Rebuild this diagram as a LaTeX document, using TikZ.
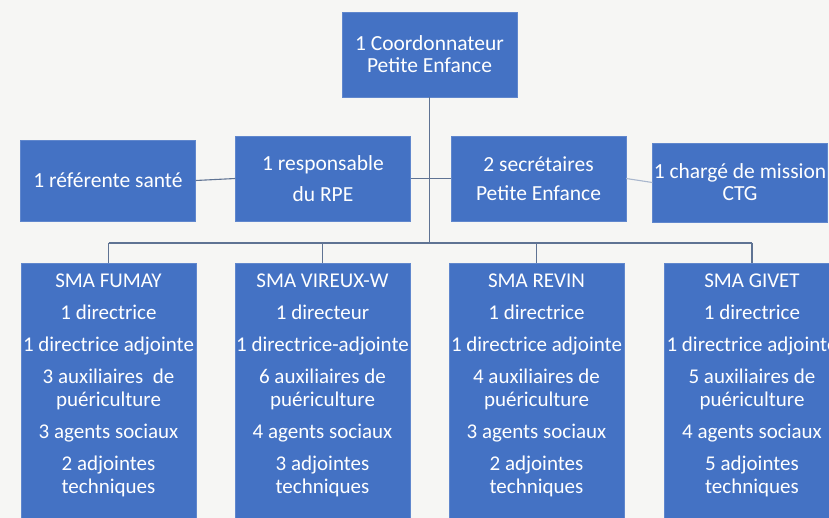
\documentclass[tikz,border=0pt]{standalone}
\usepackage{fontspec}
\setmainfont{Carlito}
\definecolor{boxblue}{HTML}{4472C4}
\definecolor{linkgray}{HTML}{5F7393}
\definecolor{linklight}{HTML}{A9B7CD}
\definecolor{paper}{HTML}{F6F6F4}
\begin{document}
\begin{tikzpicture}[x=1pt, y=-1pt,
    post/.style={
        rectangle,
        minimum width=175pt,
        minimum height=85pt,
        inner xsep=0pt,
        draw=boxblue!85!white,
        fill=boxblue,
        text=white,
        align=center,
        font=\fontsize{21.5}{22}\selectfont
    },
    site/.style={post, anchor=north, inner ysep=11pt, font=\fontsize{21}{23}\selectfont},
    link/.style={draw=linkgray, line width=1.1pt}
]

\useasboundingbox (0,0) rectangle (829,518);
\fill[paper] (0,0) rectangle (829,518);

% Direction
\node[post] (coord) at (429.5,54.5) {1 Coordonnateur\\Petite Enfance};

% Services rattachés
\node[post, minimum height=81pt] (ref) at (108,180.5) {1 référente santé};
\node[post] (resp) at (323,178.5) {1 responsable\\[9pt]du RPE};
\node[post] (sec) at (538.5,178.5) {2 secrétaires\\[7pt]Petite Enfance};
\node[post, minimum height=79pt] (ctg) at (740,182.5) {1 chargé de mission\\CTG};

% Structures multi-accueil
\node[site] (fumay) at (108.5,263) {SMA FUMAY\\[9pt]1 directrice\\[9pt]1 directrice adjointe\\[9pt]3 auxiliaires\ \ de\\puériculture\\[9pt]3 agents sociaux\\[9pt]2 adjointes\\techniques\\[60pt]\mbox{}};
\node[site] (vireux) at (322.5,263) {SMA VIREUX-W\\[9pt]1 directeur\\[9pt]1 directrice-adjointe\\[9pt]6 auxiliaires\ de\\puériculture\\[9pt]4 agents sociaux\\[9pt]3 adjointes\\techniques\\[60pt]\mbox{}};
\node[site] (revin) at (536.5,263) {SMA REVIN\\[9pt]1 directrice\\[9pt]1 directrice adjointe\\[9pt]4 auxiliaires\ de\\puériculture\\[9pt]3 agents sociaux\\[9pt]2 adjointes\\techniques\\[60pt]\mbox{}};
\node[site] (givet) at (752,263) {SMA GIVET\\[9pt]1 directrice\\[9pt]1 directrice adjointe\\[9pt]5 auxiliaires\ de\\puériculture\\[9pt]4 agents sociaux\\[9pt]5 adjointes\\techniques\\[60pt]\mbox{}};

% Liaisons
\coordinate (bus) at (429.5,243);
\draw[link] (coord.south) -- (bus);
\draw[link] (ref.east) -- (resp.west);
\draw[link] (resp.east) -- (sec.west);
\draw[link, draw=linklight] (sec.east) -- (ctg.west);
\draw[link] (fumay.north |- bus) -- (givet.north |- bus);
\foreach \s in {fumay, vireux, revin, givet}
    \draw[link] (\s.north |- bus) -- (\s.north);

\end{tikzpicture}
\end{document}
